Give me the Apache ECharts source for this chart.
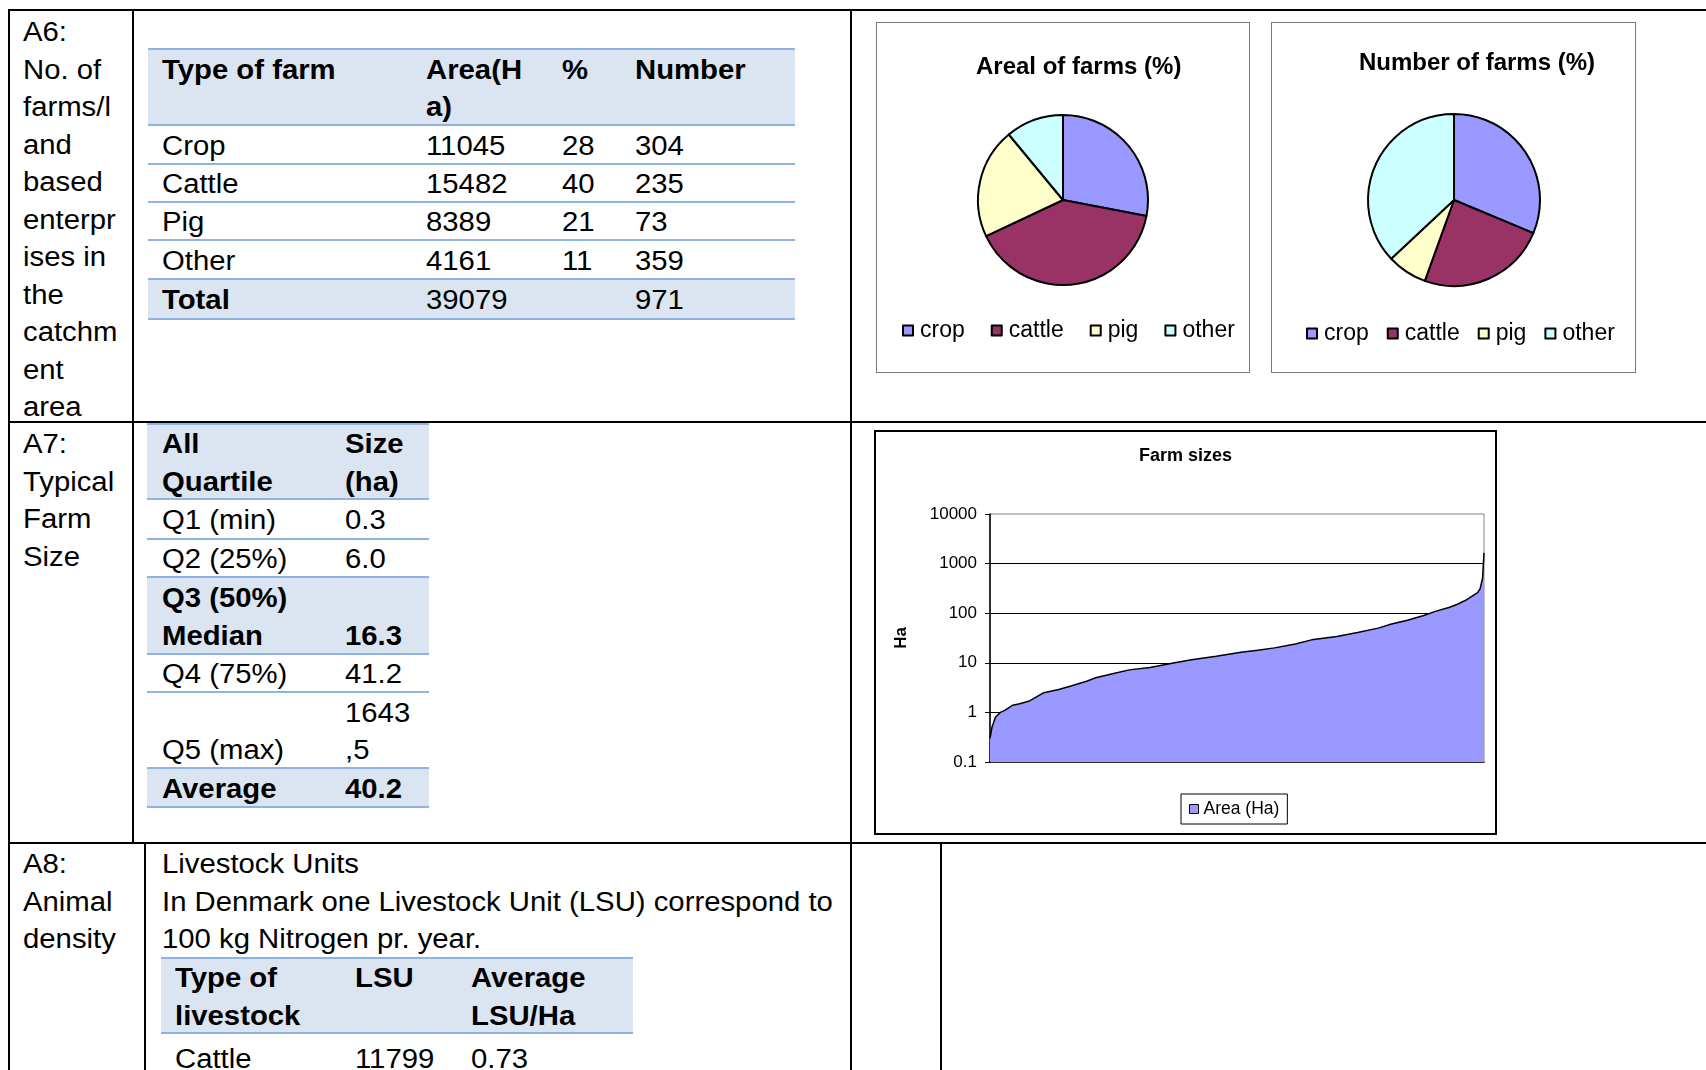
<!DOCTYPE html>
<html>
<head>
<meta charset="utf-8">
<script src="https://cdn.jsdelivr.net/npm/echarts@6/dist/echarts.min.js"></script>
<style>
body { margin:0; width:1706px; height:1070px; overflow:hidden; background:#fff; position:relative;
       font-family:"Liberation Sans", Arial, sans-serif; font-size:27px; line-height:37.5px; color:#000; }
.hl { position:absolute; height:2px; background:#000; }
.vl { position:absolute; width:2px; background:#000; }
.txt { position:absolute; white-space:nowrap; transform:scaleX(1.085); transform-origin:0 0; }
.tline { position:absolute; height:2px; background:#8DB3E2; }
.shade { position:absolute; background:#DBE5F1; }
.frame { position:absolute; box-sizing:border-box; pointer-events:none; }
.chart { position:absolute; }
</style>
</head>
<body>
<div id="pie1" class="chart" style="left:876px;top:22px;width:374px;height:351px"></div>
<div id="pie2" class="chart" style="left:1271px;top:22px;width:365px;height:351px"></div>
<div id="sizes" class="chart" style="left:874px;top:430px;width:623px;height:405px"></div>
<script>
// A6 table
var farmTypes = ['Crop', 'Cattle', 'Pig', 'Other'];
var farmArea = [11045, 15482, 8389, 4161];
var farmPct = [28, 40, 21, 11];
var farmNumber = [304, 235, 73, 359];
var totalArea = 39079;
var totalNumber = 971;

// pie legends
var pieNames = ['crop', 'cattle', 'pig', 'other'];

// A7 table
var quartileNames = ['Q1 (min)', 'Q2 (25%)', 'Q3 (50%)\nMedian', 'Q4 (75%)', 'Q5 (max)', 'Average'];
var quartileSizes = ['0.3', '6.0', '16.3', '41.2', '1643,5', '40.2'];

// farm sizes curve, sorted farms: rank (% of farms) and size (ha)
var sizeRank = [0, 0.4, 1.1, 2.1, 3, 4.6, 6, 8, 10.9, 13.9, 16.4, 19.7, 21.4, 24.8, 28.2, 32.4,
    37.4, 40.8, 45.8, 50.8, 54.2, 57.6, 61.8, 65.1, 70.2, 74.4, 78.6, 81.1, 84.5, 87.8,
    90.3, 92.9, 94.5, 96.2, 98.7, 99.2, 99.7, 100];
var sizeHa = [0.3, 0.5, 0.8, 1.0, 1.1, 1.4, 1.5, 1.7, 2.5, 2.9, 3.4, 4.3, 5.0, 6.0, 7.2, 8.0,
    10, 11.5, 13.5, 16.3, 18, 20, 24, 29, 34, 41, 50, 60, 72, 90,
    110, 130, 150, 180, 260, 310, 500, 1643];
var yTicks = [0.1, 1, 10, 100, 1000, 10000];

// A8
var lsuTypes = ['Cattle'];
var lsuValues = [11799];
var lsuPerHa = ['0.73'];

var PIE_COLORS = ['#9999FF', '#993366', '#FFFFCC', '#CCFFFF'];
var FONT = '"Liberation Sans", Arial, sans-serif';

function put(cls, css, html) {
    var d = document.createElement('div');
    d.className = cls;
    for (var k in css) d.style[k] = typeof css[k] === 'number' ? css[k] + 'px' : css[k];
    if (html != null) d.innerHTML = html;
    document.body.appendChild(d);
    return d;
}

// outer document table
put('hl', {left: 8, top: 9, width: 1698});
put('hl', {left: 8, top: 421, width: 1698});
put('hl', {left: 8, top: 842, width: 1698});
put('vl', {left: 8, top: 9, height: 1061});
put('vl', {left: 132, top: 9, height: 835});
put('vl', {left: 144, top: 842, height: 228});
put('vl', {left: 850, top: 9, height: 1061});
put('vl', {left: 940, top: 842, height: 228});

put('txt', {left: 23, top: 14}, 'A6:<br>No. of<br>farms/l<br>and<br>based<br>enterpr<br>ises in<br>the<br>catchm<br>ent<br>area');
put('txt', {left: 23, top: 426}, 'A7:<br>Typical<br>Farm<br>Size');
put('txt', {left: 23, top: 846}, 'A8:<br>Animal<br>density');
put('txt', {left: 162, top: 846}, 'Livestock Units<br>In Denmark one Livestock Unit (LSU) correspond to<br>100 kg Nitrogen pr. year.');

// rows: {cells, shade, bold (array per cell), valign}
function drawTable(left, width, colX, lines, rows) {
    put('tline', {left: left, top: lines[0], width: width});
    rows.forEach(function (row, i) {
        var top = lines[i] + 2;
        var bottom = lines[i + 1];
        if (row.shade) put('shade', {left: left, top: top, width: width, height: bottom - top});
        if (row.lastLine) put('tline', {left: left, top: bottom, width: width});
        var cellLines = row.cells.map(function (c) { return String(c).split('\n'); });
        var n = Math.max.apply(null, cellLines.map(function (l) { return l.length; }));
        var textTop = top + (bottom - top - n * 37.5) / 2 + 2;
        cellLines.forEach(function (l, j) {
            if (row.valign === 'bottom') while (l.length < n) l.unshift('');
            var html = l.map(function (s) { return s === '' ? '&nbsp;' : s; }).join('<br>');
            put('txt', {left: colX[j], top: textTop, fontWeight: row.bold[j] ? 'bold' : 'normal'}, html);
        });
    });
}

var t1 = [{cells: ['Type of farm', 'Area(H\na)', '%', 'Number'], shade: true, bold: [1, 1, 1, 1], valign: 'top', lastLine: true}];
farmTypes.forEach(function (t, i) {
    t1.push({cells: [t, farmArea[i], farmPct[i], farmNumber[i]], bold: [0, 0, 0, 0], lastLine: true});
});
t1.push({cells: ['Total', totalArea, '', totalNumber], shade: true, bold: [1, 0, 0, 0], lastLine: true});
drawTable(148, 647, [162, 426, 562, 635], [48, 124, 163, 201, 239, 278, 318], t1);

var t2 = [{cells: ['All\nQuartile', 'Size\n(ha)'], shade: true, bold: [1, 1], valign: 'top', lastLine: true}];
quartileNames.forEach(function (q, i) {
    var strong = q.indexOf('Median') >= 0 || q === 'Average';
    t2.push({cells: [q, quartileSizes[i].replace(',', '\n,')], shade: strong, bold: [strong, strong], valign: 'bottom', lastLine: true});
});
drawTable(147, 282, [162, 345], [423, 498, 538, 576, 653, 691, 767, 806], t2);

var t3 = [{cells: ['Type of\nlivestock', 'LSU', 'Average\nLSU/Ha'], shade: true, bold: [1, 1, 1], valign: 'top', lastLine: true}];
lsuTypes.forEach(function (t, i) {
    t3.push({cells: [t, lsuValues[i], lsuPerHa[i]], bold: [0, 0, 0]});
});
drawTable(161, 472, [175, 355, 471], [957, 1032, 1082], t3);

// chart frames
put('frame', {left: 876, top: 22, width: 374, height: 351, border: '1px solid #7a7a7a'});
put('frame', {left: 1271, top: 22, width: 365, height: 351, border: '1px solid #7a7a7a'});
put('frame', {left: 874, top: 430, width: 623, height: 405, border: '2px solid #000'});

function pieOption(title, values, cx, r, titleLeft, titleTop, legendLeft, legendTop, gap) {
    return {
        animation: false,
        title: {
            text: title, left: titleLeft, top: titleTop, padding: 0,
            textStyle: {fontFamily: FONT, fontSize: 24, fontWeight: 'bold', color: '#000'}
        },
        legend: {
            left: legendLeft, top: legendTop, padding: 0, icon: 'rect',
            itemWidth: 10, itemHeight: 10, itemGap: gap,
            itemStyle: {borderWidth: 2, borderColor: '#000'},
            textStyle: {fontFamily: FONT, fontSize: 23, color: '#000', padding: [0, 0, 0, 2]}
        },
        series: [{
            type: 'pie',
            center: [cx, 178],
            radius: r,
            startAngle: 90,
            clockwise: true,
            label: {show: false},
            labelLine: {show: false},
            emphasis: {disabled: true},
            itemStyle: {borderColor: '#000', borderWidth: 2},
            data: pieNames.map(function (n, i) {
                return {name: n, value: values[i], itemStyle: {color: PIE_COLORS[i]}};
            })
        }]
    };
}

echarts.init(document.getElementById('pie1')).setOption(
    pieOption('Areal of farms (%)', farmPct, 187, 85, 100, 33, 26, 297, 26));
echarts.init(document.getElementById('pie2')).setOption(
    pieOption('Number of farms (%)', farmNumber, 183, 86, 88, 29, 35, 300, 18));

var sizesChart = echarts.init(document.getElementById('sizes'));
sizesChart.setOption({
    animation: false,
    title: {
        text: 'Farm sizes', left: 'center', top: 17, padding: 0,
        textStyle: {fontFamily: FONT, fontSize: 18, fontWeight: 'bold', color: '#000'}
    },
    legend: {
        left: 307, top: 364, padding: [6, 8],
        borderColor: '#000', borderWidth: 1,
        itemWidth: 9, itemHeight: 9, icon: 'rect',
        itemStyle: {color: '#9999FF', borderColor: '#000', borderWidth: 1},
        textStyle: {fontFamily: FONT, fontSize: 17.5, color: '#000'},
        data: ['Area (Ha)']
    },
    grid: {
        left: 116, right: 13, top: 84, bottom: 73,
        show: true, borderColor: '#808080', borderWidth: 1,
        outerBoundsMode: 'none'
    },
    xAxis: {
        type: 'value', min: 0, max: 100,
        axisLine: {show: true, onZero: false, lineStyle: {color: '#000', width: 1.5}},
        axisTick: {show: false}, axisLabel: {show: false}, splitLine: {show: false}
    },
    yAxis: {
        type: 'log', logBase: 10, min: yTicks[0], max: yTicks[yTicks.length - 1],
        name: 'Ha', nameLocation: 'middle', nameRotate: 90, nameGap: 80,
        nameTextStyle: {fontFamily: FONT, fontSize: 17, fontWeight: 'bold', color: '#000'},
        axisLine: {show: true, lineStyle: {color: '#000', width: 1.5}},
        axisTick: {show: true, length: 5, lineStyle: {color: '#000'}},
        axisLabel: {
            fontFamily: FONT, fontSize: 17, color: '#000', margin: 13,
            formatter: function (v) { return String(+v.toPrecision(3)); }
        },
        splitLine: {show: true, showMinLine: false, showMaxLine: false, lineStyle: {color: '#000', width: 1}}
    },
    series: [{
        name: 'Area (Ha)',
        type: 'line',
        showSymbol: false,
        symbol: 'none',
        lineStyle: {color: '#000', width: 1.5},
        itemStyle: {color: '#9999FF'},
        areaStyle: {color: '#9999FF', opacity: 1, origin: 'start'},
        data: sizeRank.map(function (x, i) { return [x, sizeHa[i]]; })
    }]
});
</script>
</body>
</html>
